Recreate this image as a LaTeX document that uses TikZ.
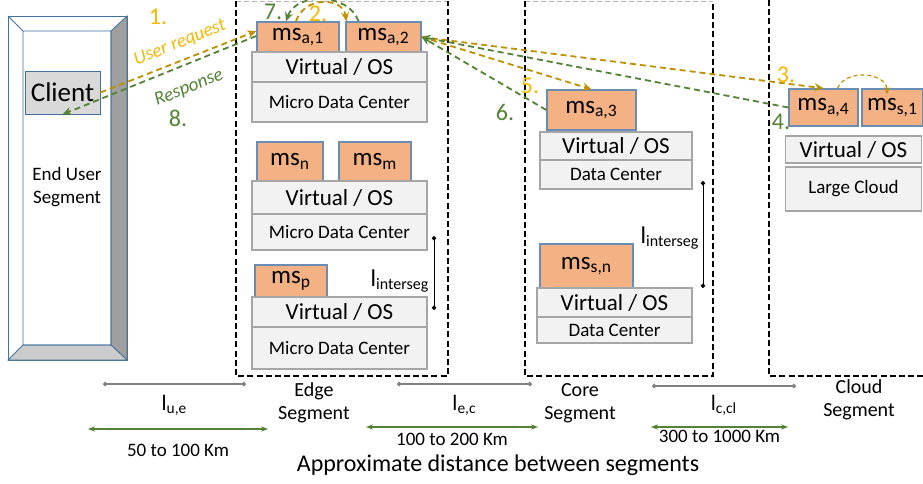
\documentclass[tikz,border=0pt]{standalone}
\usepackage{fontspec}
\setmainfont{Carlito}
\usetikzlibrary{shapes,arrows}
\usetikzlibrary{arrows.meta}

\definecolor{msfill}{HTML}{F4B183}
\definecolor{msline}{HTML}{6A8DB5}
\definecolor{osfill}{HTML}{F2F2F2}
\definecolor{osline}{HTML}{A6A6A6}
\definecolor{reqline}{HTML}{BF9000}
\definecolor{reqtext}{HTML}{F5B800}
\definecolor{respgreen}{HTML}{548235}
\definecolor{userline}{HTML}{41719C}

\tikzstyle{ms} = [rectangle, draw=msline, line width=0.7pt, fill=msfill, inner sep=0pt,
    text centered, font=\fontsize{12.5}{13}\selectfont]
\tikzstyle{osbox} = [rectangle, draw=osline, line width=0.6pt, fill=osfill, inner sep=0pt,
    text centered, minimum width=87.5pt, font=\fontsize{11.5}{12}\selectfont]
\tikzstyle{dcbox} = [osbox, font=\fontsize{9.5}{10}\selectfont]
\tikzstyle{segbox} = [draw, line width=1.1pt, dash pattern=on 3pt off 1.6pt]
\tikzstyle{segtop} = [draw=gray!60, line width=0.5pt, dash pattern=on 2.5pt off 1.5pt]
\tikzstyle{req} = [draw=reqline, line width=0.9pt, dash pattern=on 3pt off 2pt,
    -{Stealth[length=4.5pt,width=4pt]}]
\tikzstyle{resp} = [draw=respgreen, line width=0.9pt, dash pattern=on 3pt off 2pt,
    -{Stealth[length=4.5pt,width=4pt]}]
\tikzstyle{segdist} = [draw=gray, line width=0.6pt, {Circle[length=2.2pt]}-{Circle[length=2.2pt]}]
\tikzstyle{kmrange} = [draw=respgreen, line width=0.8pt, {Stealth[length=3.5pt]}-{Stealth[length=3.5pt]}]
\tikzstyle{numlabel} = [font=\fontsize{12}{12}\selectfont]
\tikzstyle{seglabel} = [align=center, font=\fontsize{10}{11.5}\selectfont]

\begin{document}
\begin{tikzpicture}[x=0.5pt, y=-0.5pt]
\useasboundingbox (0,0) rectangle (923,483);

% end user segment
\filldraw [draw=userline, fill=white] (8,16) rectangle (127,360);
\filldraw [draw=userline, fill=gray!75] (111,31) -- (127,16) -- (127,360) -- (111,345) -- cycle;
\filldraw [draw=userline, fill=gray!40] (23,345) -- (111,345) -- (127,360) -- (8,360) -- cycle;
\draw [userline] (8,16) -- (23,31) (23,31) rectangle (111,345);
\node [rectangle, draw=userline, fill=gray!30, minimum width=37.5pt, minimum height=21.5pt,
    inner sep=0pt, font=\fontsize{13.5}{14}\selectfont] (client) at (62.5,92.5) {Client};
\node [align=center, font=\fontsize{9.5}{11.5}\selectfont] (user) at (67,187) {End User\\Segment};

% segment borders
\draw [segtop] (236,1) -- (448,1);
\draw [segbox] (236,1) -- (236,376) -- (448,376) -- (448,1);
\draw [segtop] (525,1) -- (713,1);
\draw [segbox] (525,1) -- (525,376) -- (713,376) -- (713,1);
\draw [segbox] (769,0) -- (769,376) -- (924,376);

% edge segment
\node [ms, minimum width=41pt, minimum height=15pt] (msa1) at (298,37) {ms\textsubscript{a,1}};
\node [ms, minimum width=37.5pt, minimum height=15pt] (msa2) at (383.5,37) {ms\textsubscript{a,2}};
\node [osbox, minimum height=15pt] (os1) at (339.5,67) {Virtual / OS};
\node [dcbox, minimum height=20pt] (mdc1) at (339.5,102) {Micro Data Center};
\node [ms, minimum width=33pt, minimum height=19.5pt] (msn) at (290,161.5) {ms\textsubscript{n}};
\node [ms, minimum width=36pt, minimum height=19.5pt] (msm) at (375,161.5) {ms\textsubscript{m}};
\node [osbox, minimum height=16.5pt] (os2) at (339.5,197.5) {Virtual / OS};
\node [dcbox, minimum height=18pt] (mdc2) at (339.5,232) {Micro Data Center};
\node [ms, minimum width=36pt, minimum height=16pt] (msp) at (291,281) {ms\textsubscript{p}};
\node [osbox, minimum height=15pt] (os3) at (339.5,312) {Virtual / OS};
\node [dcbox, minimum height=21pt] (mdc3) at (339.5,348) {Micro Data Center};
\coordinate (ie1) at (434,236);
\coordinate (ie2) at (434,310);
\path [draw, line width=0.5pt, {Circle[length=2.2pt]}-{Circle[length=2.2pt]}] (ie1) -- (ie2);
\node [font=\fontsize{12}{12}\selectfont] (ilabel1) at (400,281) {l\textsubscript{interseg}};

% core segment
\node [ms, minimum width=44.5pt, minimum height=20pt] (msa3) at (591.5,110) {ms\textsubscript{a,3}};
\node [osbox, minimum width=76pt, minimum height=14pt] (os4) at (616,146) {Virtual / OS};
\node [dcbox, minimum width=76pt, minimum height=14.5pt] (dc1) at (616,174.5) {Data Center};
\node [ms, minimum width=46.5pt, minimum height=22pt] (mssn) at (586.5,266) {ms\textsubscript{s,n}};
\node [osbox, minimum width=77.5pt, minimum height=14.5pt] (os5) at (614.5,302.5) {Virtual / OS};
\node [dcbox, minimum width=77.5pt, minimum height=13pt] (dc2) at (614.5,330) {Data Center};
\coordinate (ic1) at (703,181);
\coordinate (ic2) at (703,288);
\path [draw, line width=0.5pt, {Circle[length=2.2pt]}-{Circle[length=2.2pt]}] (ic1) -- (ic2);
\node [font=\fontsize{12}{12}\selectfont] (ilabel2) at (670,238) {l\textsubscript{interseg}};

% cloud segment
\node [ms, minimum width=34.5pt, minimum height=18.5pt] (msa4) at (823.5,107.5) {ms\textsubscript{a,4}};
\node [ms, minimum width=30.5pt, minimum height=18.5pt] (mss1) at (892.5,107.5) {ms\textsubscript{s,1}};
\node [osbox, minimum width=68pt, minimum height=13.5pt] (os6) at (853.5,149.5) {Virtual / OS};
\node [dcbox, minimum width=68pt, minimum height=22pt] (lc) at (853.5,189) {Large Cloud};

% request / response flow
\path [req] (client.east) -- ([yshift=3pt]msa1.west);
\path [resp] ([yshift=0.5pt]msa1.west) -- (client.south);
\node [numlabel, text=reqtext] (n1) at (158,17) {1.};
\node [text=reqtext, rotate=22, inner sep=0pt, font=\itshape\fontsize{9.5}{10}\selectfont] (t1) at (180,43) {User request};
\node [text=respgreen, rotate=22, inner sep=0pt, font=\itshape\fontsize{9.5}{10}\selectfont] (t8) at (189,88) {Response};
\node [numlabel, text=respgreen] (n8) at (178,118) {8.};

\path [req] ([xshift=-1pt]msa1.north) .. controls +(8,-25) and +(-4,-25) .. ([xshift=-18.5pt]msa2.north);
\node [numlabel, text=reqtext] (n2) at (318,14) {2.};
\path [resp] ([xshift=-12.5pt]msa2.north) .. controls +(-10,-29) and +(10,-29) .. ([xshift=-6pt]msa1.north);
\node [numlabel, text=respgreen] (n7) at (273,12) {7.};

\path [req] (msa2.east) -- (msa4.north);
\node [numlabel, text=reqtext] (n3) at (786,75) {3.};
\path [resp] (msa4.west) -- (msa2.east);
\node [numlabel, text=respgreen] (n4) at (781,122) {4.};
\path [req] (msa2.east) -- (msa3.north);
\node [numlabel, text=reqtext] (n5) at (530,86) {5.};
\path [resp] (msa3.west) -- (msa2.east);
\node [numlabel, text=respgreen] (n6) at (505,112) {6.};
\path [draw=reqline, line width=0.6pt, dash pattern=on 2pt off 1.5pt, -{Stealth[length=3.5pt,width=3pt]}]
    ([xshift=7pt]msa4.north) .. controls +(8,-20) and +(0,-22) .. ([xshift=-2.75pt,yshift=-3pt]mss1.north);

% distances between segments
\coordinate (ue1) at (103,384);
\coordinate (ue2) at (246,384);
\path [segdist] (ue1) -- (ue2) node[midway, below=2pt, font=\fontsize{11}{11}\selectfont] {l\textsubscript{u,e}};
\coordinate (ec1) at (397,384);
\coordinate (ec2) at (532,384);
\path [segdist] (ec1) -- (ec2) node[midway, below=2pt, font=\fontsize{11}{11}\selectfont] {l\textsubscript{e,c}};
\coordinate (cc1) at (652,386);
\coordinate (cc2) at (796,386);
\path [segdist] (cc1) -- (cc2) node[midway, below=1pt, font=\fontsize{11}{11}\selectfont] {l\textsubscript{c,cl}};

\coordinate (km1) at (88,429);
\coordinate (km2) at (268,429);
\path [kmrange] (km1) -- (km2) node[midway, below=4pt, font=\fontsize{9.5}{10}\selectfont] {50 to 100 Km};
\coordinate (km3) at (366,427);
\coordinate (km4) at (538,427);
\path [kmrange] (km3) -- (km4) node[midway, below=-0.5pt, font=\fontsize{9.5}{10}\selectfont] {100 to 200 Km};
\coordinate (km5) at (651,427);
\coordinate (km6) at (788,427);
\path [kmrange] (km5) -- (km6) node[midway, below=-2pt, font=\fontsize{9.5}{10}\selectfont] {300 to 1000 Km};

\node [seglabel] (edge) at (314,403) {Edge\\Segment};
\node [seglabel] (core) at (580,403) {Core\\Segment};
\node [seglabel] (cloud) at (859,400) {Cloud\\Segment};
\node [font=\fontsize{12}{12}\selectfont] (caption) at (498,465) {Approximate distance between segments};
\end{tikzpicture}
\end{document}
